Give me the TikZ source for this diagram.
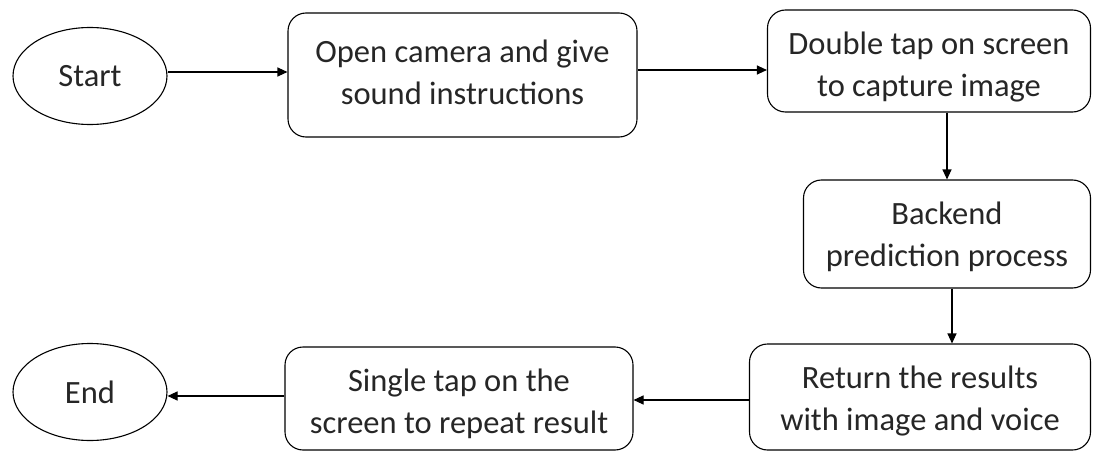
\documentclass[tikz,border=0pt]{standalone}
\usepackage{fontspec}
\setmainfont{Carlito}
\usetikzlibrary{shapes.geometric,arrows.meta,positioning,calc}

\begin{document}
\begin{tikzpicture}[x=1pt,y=-1pt,
    every node/.style={font=\fontsize{32.5}{42}\selectfont, text=black!85, align=center, inner sep=0pt},
    terminal/.style={ellipse, draw, line width=1.1pt, minimum width=154pt, minimum height=97pt},
    stepbox/.style={rectangle, rounded corners=18pt, draw, line width=1.1pt},
    flow/.style={-{Triangle[width=9pt,length=10pt]}, line width=1.1pt}]
    \useasboundingbox (0,0) rectangle (1093,452);
    % top row
    \node[terminal] (start) at (90,76) {Start};
    \node[stepbox, minimum width=349pt, minimum height=124pt] (open) at (462.5,75) {};
    \node at (462.5,72) {Open camera and give\\sound instructions};
    \node[stepbox, minimum width=323pt, minimum height=102pt] (capture) at (929,61) {};
    \node at (929,67) {Double tap on screen\\to capture image};
    % right column
    \node[stepbox, minimum width=287pt, minimum height=108pt] (backend) at (947,234) {};
    \node at (947,237) {Backend\\prediction process};
    \node[stepbox, minimum width=341pt, minimum height=106pt] (result) at (920,397) {};
    \node at (920,401) {Return the results\\with image and voice};
    % bottom row
    \node[stepbox, minimum width=348pt, minimum height=103pt] (repeat) at (459,398.5) {};
    \node at (459,404) {Single tap on the\\screen to repeat result};
    \node[terminal] (end) at (90,392) {End};
    % connectors
    \draw[flow] (start.east |- 0,72) -- (open.west |- 0,72);
    \draw[flow] (open.east |- 0,70) -- (capture.west |- 0,70);
    \draw[flow] (capture.south -| 947,0) -- (backend.north -| 947,0);
    \draw[flow] (backend.south -| 952,0) -- (result.north -| 952,0);
    \draw[flow] (result.west |- 0,400) -- (repeat.east |- 0,400);
    \draw[flow] (repeat.west |- 0,396) -- (end.east |- 0,396);
\end{tikzpicture}
\end{document}
